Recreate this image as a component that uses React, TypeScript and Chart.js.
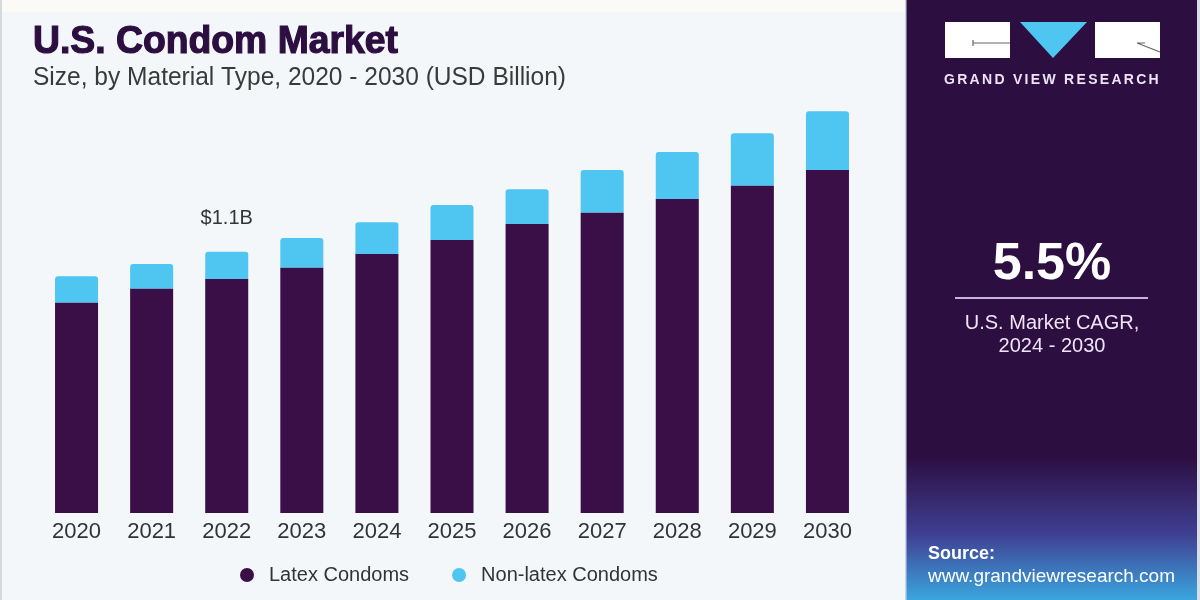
import React, { useEffect, useRef } from 'react';
import { Chart, registerables } from 'chart.js';

Chart.register(...registerables);

// ---- data ----
const years = ['2020', '2021', '2022', '2023', '2024', '2025', '2026', '2027', '2028', '2029', '2030'];
const latexCondoms = [0.886, 0.945, 0.986, 1.034, 1.092, 1.151, 1.218, 1.266, 1.324, 1.38, 1.446];
const nonLatexCondoms = [0.112, 0.105, 0.115, 0.125, 0.134, 0.147, 0.147, 0.18, 0.198, 0.221, 0.248];
const seriesNames = ['Latex Condoms', 'Non-latex Condoms'];
const annotatedIndex = 2;
const annotatedText = '$1.1B';

const titleText = 'U.S. Condom Market';
const subtitleText = 'Size, by Material Type, 2020 - 2030 (USD Billion)';
const cagrValue = '5.5%';
const cagrLines = ['U.S. Market CAGR,', '2024 - 2030'];
const brandText = 'GRAND VIEW RESEARCH';
const sourceLines = ['Source:', 'www.grandviewresearch.com'];

const LATEX_COLOR = '#3a0f48';
const NONLATEX_COLOR = '#4fc5f2';
const PANEL_COLOR = '#2c0e40';
const FONT = '"Liberation Sans", Arial, sans-serif';

const decorPlugin = {
  id: 'decor',
  beforeDraw(chart: any) {
    const ctx = chart.ctx as CanvasRenderingContext2D;
    ctx.save();
    // left background
    ctx.fillStyle = '#f4f7fa';
    ctx.fillRect(0, 0, 906, 600);
    ctx.fillStyle = '#fbfaf6';
    ctx.fillRect(0, 0, 906, 12);
    ctx.fillStyle = '#d5d8dc';
    ctx.fillRect(0, 0, 2, 600);
    // right panel
    const g = ctx.createLinearGradient(0, 0, 0, 600);
    g.addColorStop(0, PANEL_COLOR);
    g.addColorStop(0.76, PANEL_COLOR);
    g.addColorStop(0.89, '#3f3f92');
    g.addColorStop(1, '#3aa6de');
    ctx.fillStyle = g;
    ctx.fillRect(906, 0, 294, 600);
    ctx.fillStyle = '#c9d3e6';
    ctx.fillRect(905, 0, 1.5, 600);
    ctx.fillStyle = '#d9dde8';
    ctx.fillRect(1197, 0, 3, 600);
    ctx.restore();
  },
  afterDraw(chart: any) {
    const ctx = chart.ctx as CanvasRenderingContext2D;
    ctx.save();
    // titles
    ctx.textAlign = 'left';
    ctx.textBaseline = 'alphabetic';
    ctx.fillStyle = '#2c0e40';
    ctx.strokeStyle = '#2c0e40';
    ctx.lineWidth = 1.2;
    ctx.font = `bold 38px ${FONT}`;
    ctx.fillText(titleText, 33, 53, 365);
    ctx.strokeText(titleText, 33, 53, 365);
    ctx.fillStyle = '#3a3a3a';
    ctx.font = `25px ${FONT}`;
    ctx.fillText(subtitleText, 33, 85, 533);

    // annotation above bar
    const xs = chart.scales.x;
    const ys = chart.scales.y;
    const total = latexCondoms[annotatedIndex] + nonLatexCondoms[annotatedIndex];
    ctx.textAlign = 'center';
    ctx.textBaseline = 'middle';
    ctx.fillStyle = '#333333';
    ctx.font = `20px ${FONT}`;
    ctx.fillText(annotatedText, xs.getPixelForValue(annotatedIndex), ys.getPixelForValue(total) - 33);

    // legend
    ctx.font = `20px ${FONT}`;
    ctx.textAlign = 'left';
    let lx = 240;
    chart.data.datasets.forEach((ds: any) => {
      ctx.fillStyle = ds.backgroundColor;
      ctx.beginPath();
      ctx.arc(lx + 7, 575, 7, 0, Math.PI * 2);
      ctx.fill();
      ctx.fillStyle = '#333333';
      ctx.fillText(ds.label, lx + 29, 575);
      lx = lx + 29 + ctx.measureText(ds.label).width + 43;
    });

    // logo
    ctx.fillStyle = '#ffffff';
    ctx.fillRect(945, 22, 65, 36);
    ctx.fillRect(1095, 22, 65, 36);
    ctx.strokeStyle = '#666666';
    ctx.lineWidth = 1.2;
    ctx.beginPath();
    ctx.moveTo(973, 43); ctx.lineTo(1010, 43);
    ctx.moveTo(973, 40); ctx.lineTo(973, 46);
    ctx.moveTo(1137, 43); ctx.lineTo(1145, 43);
    ctx.moveTo(1137, 43); ctx.lineTo(1160, 52);
    ctx.stroke();
    ctx.fillStyle = NONLATEX_COLOR;
    ctx.beginPath();
    ctx.moveTo(1020, 22); ctx.lineTo(1087, 22); ctx.lineTo(1053, 58); ctx.closePath();
    ctx.fill();
    ctx.fillStyle = '#ece4f4';
    ctx.font = `bold 14px ${FONT}`;
    ctx.textAlign = 'left';
    ctx.textBaseline = 'alphabetic';
    (ctx as any).letterSpacing = '2.3px';
    ctx.fillText(brandText, 944, 84, 217);
    (ctx as any).letterSpacing = '0px';

    // CAGR
    ctx.textAlign = 'center';
    ctx.textBaseline = 'middle';
    ctx.fillStyle = '#ffffff';
    ctx.font = `bold 52px ${FONT}`;
    ctx.fillText(cagrValue, 1052, 265);
    ctx.strokeStyle = '#c8b2e0';
    ctx.lineWidth = 2;
    ctx.beginPath();
    ctx.moveTo(955, 298); ctx.lineTo(1148, 298);
    ctx.stroke();
    ctx.fillStyle = '#eee4f6';
    ctx.font = `20px ${FONT}`;
    ctx.fillText(cagrLines[0], 1052, 323, 180);
    ctx.fillText(cagrLines[1], 1052, 346);

    // source
    ctx.textAlign = 'left';
    ctx.fillStyle = '#ffffff';
    ctx.font = `bold 18px ${FONT}`;
    ctx.fillText(sourceLines[0], 928, 554);
    ctx.font = `19px ${FONT}`;
    ctx.fillText(sourceLines[1], 928, 577, 247);
    ctx.restore();
  },
};

export default function App() {
  const ref = useRef<HTMLCanvasElement | null>(null);
  useEffect(() => {
    if (!ref.current) return;
    const chart = new Chart(ref.current, {
      type: 'bar',
      data: {
        labels: years,
        datasets: [
          {
            label: seriesNames[0],
            data: latexCondoms,
            backgroundColor: LATEX_COLOR,
            barPercentage: 0.573,
            categoryPercentage: 1,
            borderSkipped: false,
          },
          {
            label: seriesNames[1],
            data: nonLatexCondoms,
            backgroundColor: NONLATEX_COLOR,
            barPercentage: 0.573,
            categoryPercentage: 1,
            borderRadius: { topLeft: 3, topRight: 3, bottomLeft: 0, bottomRight: 0 },
            borderSkipped: false,
          },
        ],
      },
      options: {
        responsive: false,
        animation: false,
        layout: { padding: { top: 86, left: 39, right: 335, bottom: 0 } },
        plugins: {
          legend: { display: false },
          tooltip: { enabled: false },
        },
        scales: {
          x: {
            stacked: true,
            grid: { display: false, drawTicks: false },
            border: { display: false },
            ticks: { color: '#333333', font: { size: 22, family: FONT }, padding: 6, maxRotation: 0 },
            afterFit: (scale: any) => { scale.height = 87; },
          },
          y: {
            stacked: true,
            display: false,
            min: 0,
            max: 1.8,
          },
        },
      },
      plugins: [decorPlugin],
    });
    return () => chart.destroy();
  }, []);
  return (
    <div style={{ position: 'absolute', left: 0, top: 0, width: 1200, height: 600 }}>
      <canvas ref={ref} width={1200} height={600} />
    </div>
  );
}
